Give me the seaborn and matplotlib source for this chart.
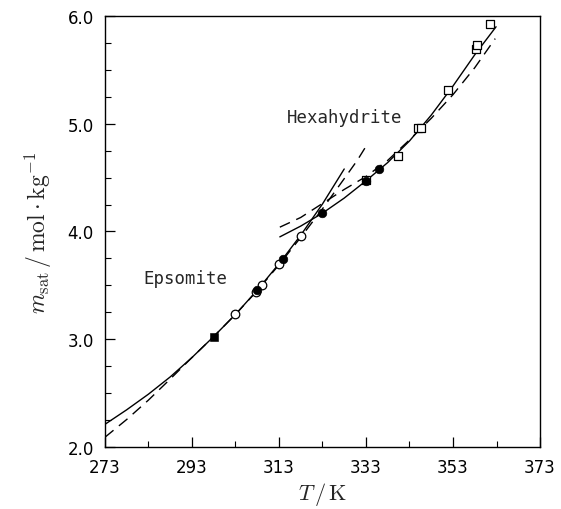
import numpy as np
import pandas as pd
import matplotlib
matplotlib.use("Agg")
import matplotlib.pyplot as plt
import seaborn as sns

# curves (T in K, m_sat in mol/kg)
eps_fit_T = [273, 278, 283, 288, 293, 298, 303, 308, 313, 318, 323, 328]
eps_fit_m = [2.21, 2.345, 2.49, 2.65, 2.83, 3.025, 3.23, 3.455, 3.70, 3.965, 4.255, 4.58]

eps_dash_T = [273, 278, 283, 288, 293, 298, 303, 308, 313, 318, 323, 328, 331, 333]
eps_dash_m = [2.09, 2.255, 2.435, 2.63, 2.83, 3.025, 3.23, 3.45, 3.69, 3.945, 4.21, 4.49, 4.66, 4.79]

hex_fit_T = [313.2, 318, 323, 328, 333, 338, 343, 348, 353, 358, 362.9]
hex_fit_m = [3.95, 4.05, 4.17, 4.31, 4.47, 4.64, 4.84, 5.08, 5.35, 5.64, 5.90]

hex_dash_T = [313.2, 318, 323, 328, 333, 338, 343, 348, 353, 358, 362.7]
hex_dash_m = [4.04, 4.13, 4.26, 4.39, 4.51, 4.66, 4.85, 5.05, 5.27, 5.52, 5.79]

# experimental points
open_circ_T = [302.9, 307.7, 309.0, 313.0, 318.0]
open_circ_m = [3.23, 3.44, 3.50, 3.70, 3.96]

filled_circ_T = [308.0, 314.0, 323.0, 333.0, 335.9]
filled_circ_m = [3.46, 3.74, 4.17, 4.47, 4.58]

filled_sq_T = [298.1]
filled_sq_m = [3.02]

open_sq_T = [333.1, 340.4, 345.0, 345.6, 351.9, 358.3, 358.6, 361.5]
open_sq_m = [4.48, 4.70, 4.96, 4.96, 5.31, 5.69, 5.73, 5.93]

sns.set_style("ticks")
plt.rcParams["font.family"] = ["DejaVu Sans"]
plt.rcParams["mathtext.fontset"] = "cm"

fig = plt.figure(figsize=(5.61, 5.10), dpi=100)
ax = fig.add_axes([0.187, 0.1216, 0.7756, 0.8451])

for T, m, ls in [(eps_fit_T, eps_fit_m, "-"), (eps_dash_T, eps_dash_m, "--"),
                 (hex_fit_T, hex_fit_m, "-"), (hex_dash_T, hex_dash_m, "--")]:
    sns.lineplot(x=T, y=m, ax=ax, color="black", lw=1.0, sort=False,
                 estimator=None)
    if ls == "--":
        ax.lines[-1].set_dashes((8, 5))

sns.scatterplot(x=open_circ_T, y=open_circ_m, ax=ax, marker="o", s=38,
                facecolor="white", edgecolor="black", linewidth=0.9, zorder=3)
sns.scatterplot(x=open_sq_T, y=open_sq_m, ax=ax, marker="s", s=32,
                facecolor="white", edgecolor="black", linewidth=0.9, zorder=3)
sns.scatterplot(x=filled_circ_T, y=filled_circ_m, ax=ax, marker="o", s=38,
                color="black", edgecolor="black", zorder=4)
sns.scatterplot(x=filled_sq_T, y=filled_sq_m, ax=ax, marker="s", s=28,
                color="black", edgecolor="black", zorder=4)

ax.set_xlim(273, 373)
ax.set_ylim(2.0, 6.0)
ax.set_xticks([273, 293, 313, 333, 353, 373])
ax.set_xticks(np.arange(283, 373, 20), minor=True)
ax.set_yticks([2.0, 3.0, 4.0, 5.0, 6.0])
ax.set_yticklabels(["2.0", "3.0", "4.0", "5.0", "6.0"])
ax.set_yticks(np.arange(2.25, 6.0, 0.25), minor=True)
ax.tick_params(which="both", direction="in", top=False, right=False,
               labelsize=12, colors="black")
ax.tick_params(which="major", length=7, width=0.9, pad=8)
ax.tick_params(which="minor", length=4.5, width=0.8)
for sp in ax.spines.values():
    sp.set_visible(True)
    sp.set_color("black")
    sp.set_linewidth(1.0)

ax.text(291.5, 3.57, "Epsomite", fontsize=12.5, family="DejaVu Sans Mono",
        ha="center", va="center")
ax.text(328, 5.06, "Hexahydrite", fontsize=12.5, family="DejaVu Sans Mono",
        ha="center", va="center")

ax.set_xlabel(r"$T\,/\,\mathrm{K}$", fontsize=16, labelpad=3)
ax.set_ylabel(r"$m_{\mathrm{sat}}\,/\,\mathrm{mol\cdot kg}^{-1}$", fontsize=17,
              labelpad=10)

fig.savefig("out.png", dpi=100)
